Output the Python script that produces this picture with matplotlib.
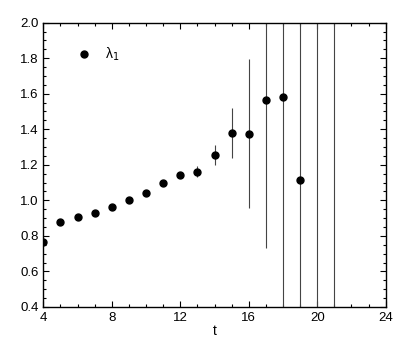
import numpy as np
import matplotlib.pyplot as plt
from matplotlib.ticker import MultipleLocator

plt.rcParams['font.family'] = ['Liberation Sans', 'DejaVu Sans']

# lambda_1 vs t
t = [4, 5, 6, 7, 8, 9, 10, 11, 12, 13, 14, 15, 16, 17, 18, 19, 20, 21]
lam1 = [0.763, 0.876, 0.905, 0.930, 0.963, 1.001, 1.044, 1.095, 1.144, 1.161,
        1.256, 1.377, 1.375, 1.565, 1.583, 1.116, 2.40, 0.20]
lam1_err = [0.004, 0.005, 0.006, 0.008, 0.010, 0.012, 0.014, 0.016, 0.018, 0.03,
            0.055, 0.14, 0.42, 0.836, 2.0, 2.0, 3.0, 3.0]

fig, ax = plt.subplots(figsize=(4.09, 3.54), dpi=100)
fig.subplots_adjust(left=0.106, right=0.943, bottom=0.133, top=0.936)

ax.errorbar(t, lam1, yerr=lam1_err, fmt='none', ecolor='#444444',
            elinewidth=0.8, capsize=0)
ax.plot(t, lam1, 'o', color='black', ms=5, label='λ$_1$')

ax.set_xlim(4, 24)
ax.set_ylim(0.4, 2.0)
ax.xaxis.set_major_locator(MultipleLocator(4))
ax.xaxis.set_minor_locator(MultipleLocator(1))
ax.yaxis.set_major_locator(MultipleLocator(0.2))
ax.yaxis.set_minor_locator(MultipleLocator(0.05))
ax.yaxis.set_major_formatter(plt.FormatStrFormatter('%.1f'))
ax.tick_params(which='both', direction='in', top=True, right=True, labelsize=9.5)
ax.tick_params(which='major', length=4.5, width=0.8)
ax.tick_params(which='minor', length=2.5, width=0.8)
for s in ax.spines.values():
    s.set_linewidth(1.0)

ax.set_xlabel('t', fontsize=10, labelpad=0)
ax.legend(loc='upper left', bbox_to_anchor=(0.043, 0.962), frameon=False,
          handletextpad=0.5, fontsize=10, numpoints=1)

plt.savefig('out.png')
